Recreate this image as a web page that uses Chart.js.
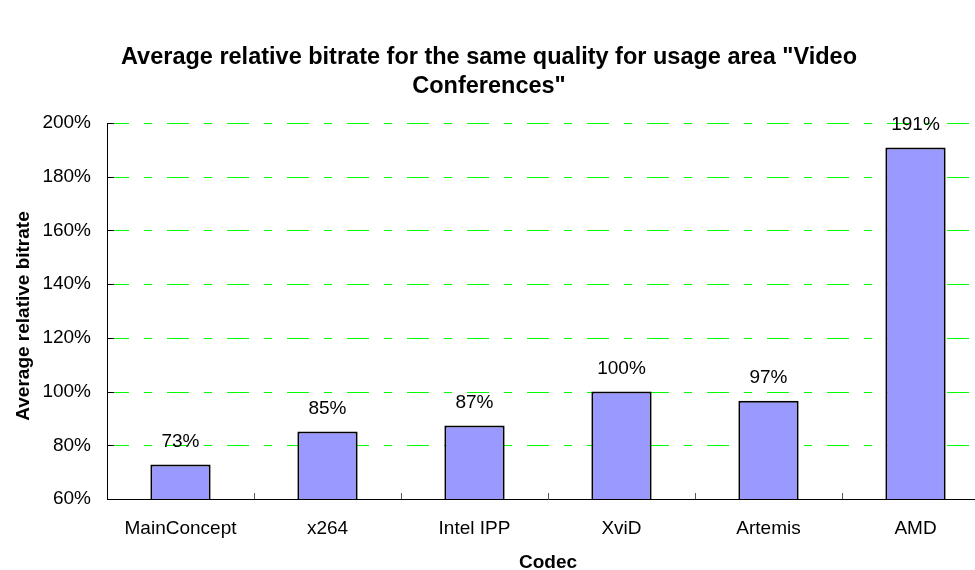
<!DOCTYPE html>
<html>
<head>
<meta charset="utf-8">
<script src="https://cdn.jsdelivr.net/npm/chart.js@4/dist/chart.umd.min.js"></script>
<style>
  body { margin: 0; overflow: hidden; background: #fff; }
  #wrap { width: 1000px; height: 570px; }
</style>
</head>
<body>
<div id="wrap"><canvas id="chartBar" width="1000" height="570"></canvas></div>
<script>
/* data */
var codecs = ['MainConcept', 'x264', 'Intel IPP', 'XviD', 'Artemis', 'AMD'];
var bitrates = [72.8, 85.1, 87.4, 100, 96.6, 190.9];
var yTicks = [60, 80, 100, 120, 140, 160, 180, 200];
var titleLines = ['Average relative bitrate for the same quality for usage area "Video', 'Conferences"'];
var yTitle = 'Average relative bitrate';
var xTitle = 'Codec';

// green dashed grid, drawn crisp under the bars
var grid = {
    id: 'grid',
    beforeDatasetsDraw: function (chart) {
        var ctx = chart.ctx;
        var area = chart.chartArea;
        var y = chart.scales.y;
        ctx.save();
        ctx.strokeStyle = '#00ff00';
        ctx.lineWidth = 1;
        ctx.setLineDash([22, 15, 8, 15]);
        yTicks.forEach(function (v) {
            if (v === yTicks[0]) return;
            var py = Math.round(y.getPixelForValue(v)) + 0.5;
            ctx.beginPath();
            ctx.moveTo(area.left, py);
            ctx.lineTo(area.right, py);
            ctx.stroke();
        });
        ctx.restore();
    }
};

// titles, value labels, small tick marks
var extras = {
    id: 'extras',
    afterDraw: function (chart) {
        var ctx = chart.ctx;
        var area = chart.chartArea;
        var y = chart.scales.y;
        ctx.save();
        ctx.fillStyle = '#000';
        ctx.textAlign = 'center';
        ctx.textBaseline = 'middle';

        // chart title
        ctx.font = 'bold 23.5px Arial, "Liberation Sans", sans-serif';
        ctx.fillText(titleLines[0], 489, 58);
        ctx.fillText(titleLines[1], 489, 87);

        // axis titles
        ctx.font = 'bold 19px Arial, "Liberation Sans", sans-serif';
        ctx.fillText(xTitle, (area.left + area.right) / 2, 563);
        ctx.save();
        ctx.translate(24, 316);
        ctx.rotate(-Math.PI / 2);
        ctx.fillText(yTitle, 0, 0);
        ctx.restore();

        // value labels
        ctx.font = '19px Arial, "Liberation Sans", sans-serif';
        chart.getDatasetMeta(0).data.forEach(function (bar, i) {
            ctx.fillText(Math.round(bitrates[i]) + '%', bar.x, bar.y - 23);
        });

        // y tick marks (inside)
        ctx.strokeStyle = '#000';
        ctx.lineWidth = 1;
        yTicks.forEach(function (v) {
            var py = Math.round(y.getPixelForValue(v)) + 0.5;
            ctx.beginPath();
            ctx.moveTo(area.left, py);
            ctx.lineTo(area.left + 7, py);
            ctx.stroke();
        });

        // x tick marks between categories
        ctx.strokeStyle = '#555';
        var w = (area.right - area.left) / codecs.length;
        for (var i = 1; i < codecs.length; i++) {
            var px = Math.round(area.left + i * w) + 0.5;
            ctx.beginPath();
            ctx.moveTo(px, area.bottom - 6);
            ctx.lineTo(px, area.bottom);
            ctx.stroke();
        }
        ctx.restore();
    }
};

new Chart(document.getElementById('chartBar'), {
    type: 'bar',
    data: {
        labels: codecs,
        datasets: [{
            data: bitrates,
            backgroundColor: '#9999ff',
            borderColor: '#000',
            borderWidth: 2,
            barPercentage: 0.41,
            categoryPercentage: 1
        }]
    },
    options: {
        responsive: false,
        animation: false,
        layout: { padding: { top: 123, right: 11, left: 0, bottom: 0 } },
        plugins: {
            legend: { display: false },
            title: { display: false },
            tooltip: { enabled: false }
        },
        scales: {
            x: {
                grid: { display: false, drawTicks: false },
                border: { color: '#000', width: 1 },
                ticks: {
                    color: '#000',
                    font: { family: 'Arial, "Liberation Sans", sans-serif', size: 19 },
                    padding: 18,
                    maxRotation: 0
                },
                afterFit: function (s) { s.height = 71; }
            },
            y: {
                min: 60,
                max: 200,
                afterBuildTicks: function (s) {
                    s.ticks = yTicks.map(function (v) { return { value: v }; });
                },
                grid: { display: false, drawTicks: false },
                border: { color: '#000', width: 1 },
                ticks: {
                    color: '#000',
                    font: { family: 'Arial, "Liberation Sans", sans-serif', size: 19 },
                    padding: 16,
                    callback: function (v) { return v + '%'; }
                },
                afterFit: function (s) { s.width = 107; }
            }
        }
    },
    plugins: [grid, extras]
});
</script>
</body>
</html>
